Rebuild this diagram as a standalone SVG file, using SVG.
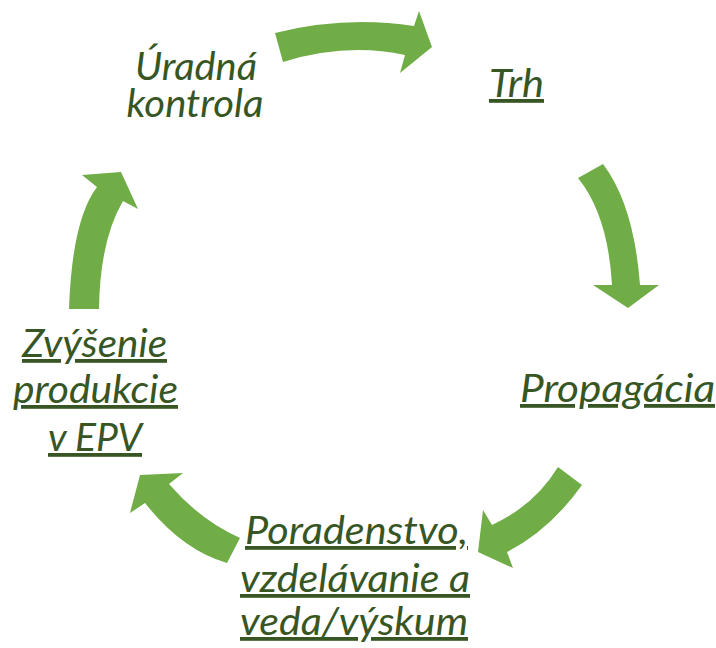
<svg xmlns="http://www.w3.org/2000/svg" width="716" height="648" viewBox="0 0 716 648">
  <style>
    .arrow { fill: #70AD47; stroke: none; }
    .lbl { font-family: Lato, "Open Sans", "Liberation Sans", sans-serif; font-style: italic; font-size: 38px; fill: #375623; text-anchor: middle; }
    .u { text-decoration: underline; text-decoration-skip-ink: none; }
  </style>
  <rect width="716" height="648" fill="#ffffff"/>
  <g id="connectors">
    <path class="arrow" d="M275,33 Q345,15.5 414,26 L419,11 L432,47 L400,73 L405,55 Q346,42.5 283,62 Z"/>
    <path class="arrow" d="M578,178 L603,164 Q634,205 640,285 L659,285 L628,308 L593,285 L612,285 Q608,215 578,178 Z"/>
    <path class="arrow" d="M558,467 L582,485 Q550,530 507,552 L513,568 L478,552 L483,510 L492,525 Q535,505 558,467 Z"/>
    <path class="arrow" d="M240,538 Q200,520 169,484 L183,473 L140,475 L130,513 L145,503 Q182,550 227,563 Z"/>
    <path class="arrow" d="M69,309 Q72,220 97,187 L82,175 L121,172 L138,209 L123,201 Q100,240 99,309 Z"/>
  </g>
  <g id="node-uradna-kontrola">
    <text class="lbl"><tspan x="196" y="80" textLength="122" lengthAdjust="spacingAndGlyphs">Úradná</tspan><tspan x="195" y="117" textLength="137" lengthAdjust="spacingAndGlyphs">kontrola</tspan></text>
  </g>
  <g id="node-trh">
    <text class="lbl u" x="516.5" y="97" textLength="55" lengthAdjust="spacingAndGlyphs">Trh</text>
  </g>
  <g id="node-propagacia">
    <text class="lbl u" x="617.5" y="402" textLength="195" lengthAdjust="spacingAndGlyphs">Propagácia</text>
  </g>
  <g id="node-poradenstvo">
    <text class="lbl u"><tspan x="356.5" y="544" textLength="223" lengthAdjust="spacingAndGlyphs">Poradenstvo,</tspan><tspan x="355" y="592" textLength="230" lengthAdjust="spacingAndGlyphs">vzdelávanie a</tspan><tspan x="354" y="635" textLength="228" lengthAdjust="spacingAndGlyphs">veda/výskum</tspan></text>
  </g>
  <g id="node-zvysenie">
    <text class="lbl u"><tspan x="94.5" y="357" textLength="145" lengthAdjust="spacingAndGlyphs">Zvýšenie</tspan><tspan x="95.5" y="403" textLength="165" lengthAdjust="spacingAndGlyphs">produkcie</tspan><tspan x="95" y="451" textLength="94" lengthAdjust="spacingAndGlyphs">v EPV</tspan></text>
  </g>
</svg>
